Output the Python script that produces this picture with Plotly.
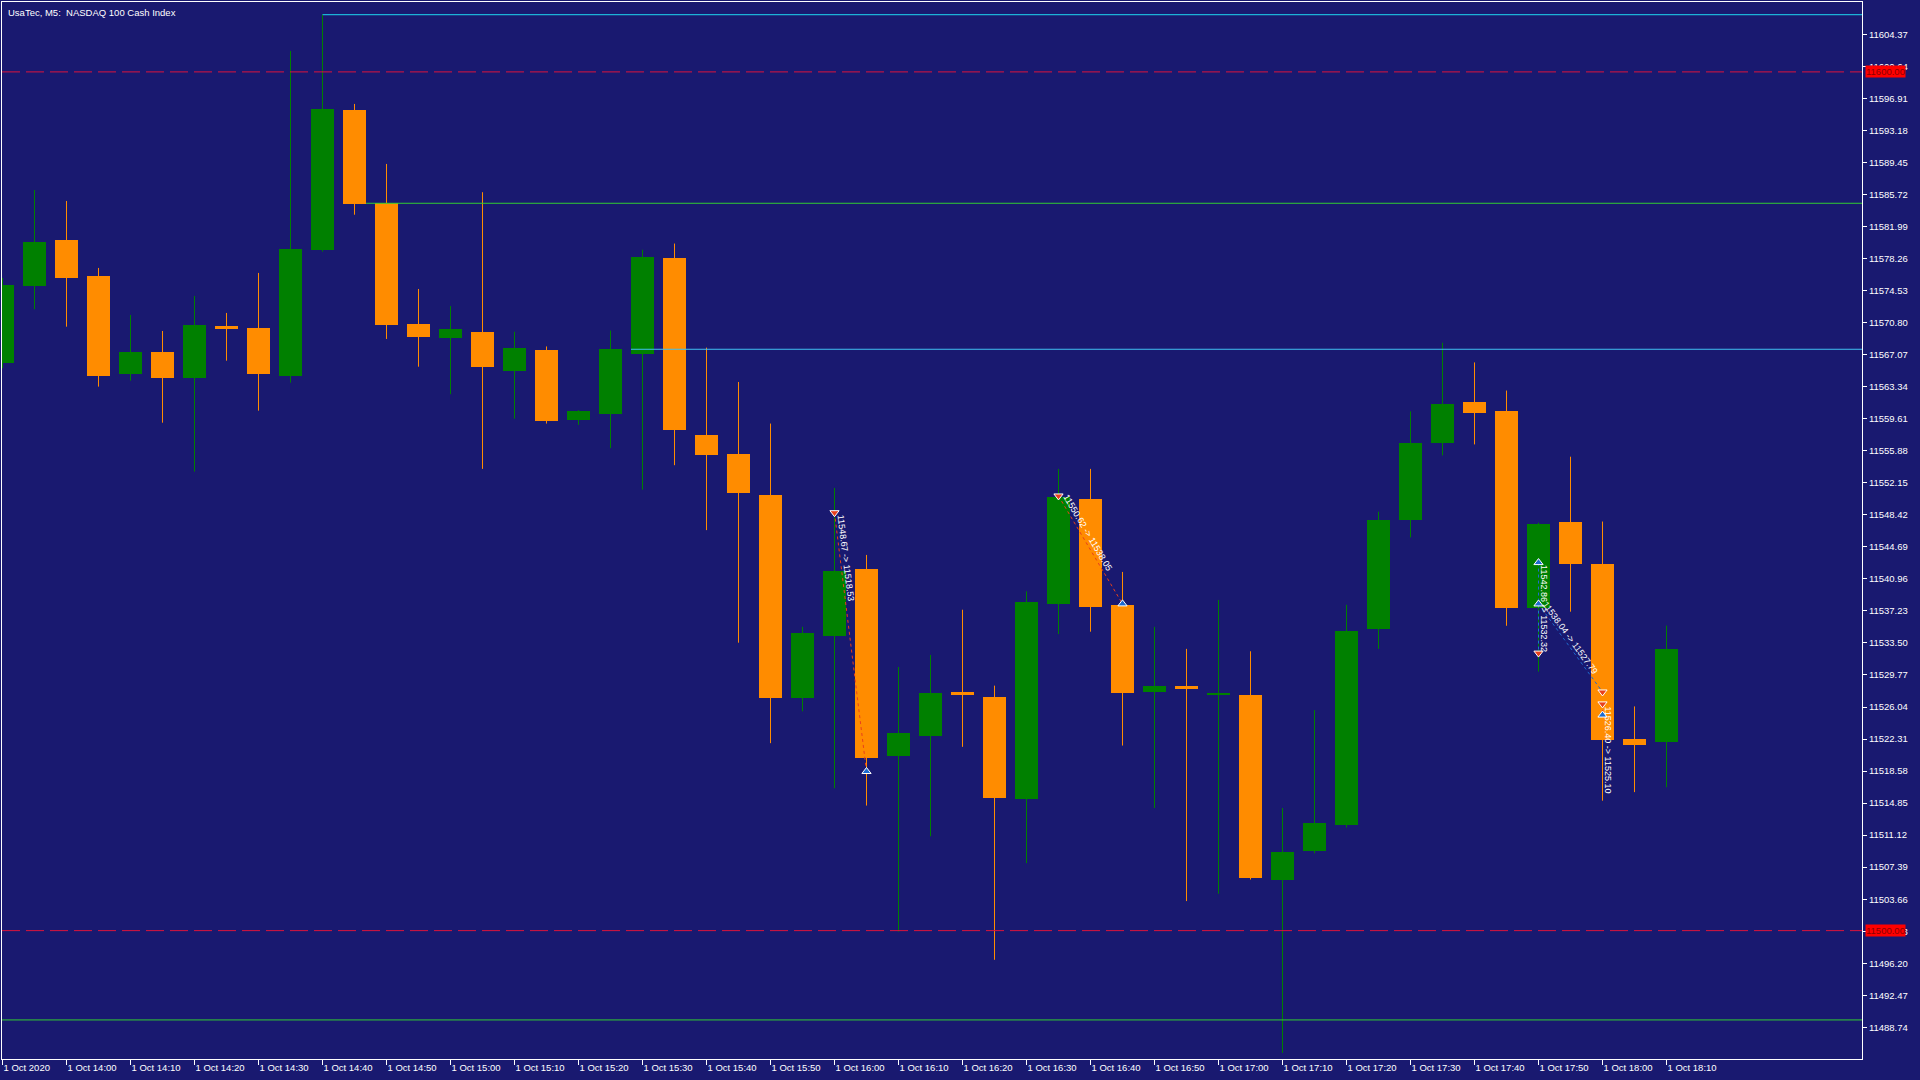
import math
import pandas as pd
import plotly.graph_objects as go

# 5 minute bars, 1 Oct 2020
times = ["13:50", "13:55", "14:00", "14:05", "14:10", "14:15", "14:20", "14:25", "14:30", "14:35",
         "14:40", "14:45", "14:50", "14:55", "15:00", "15:05", "15:10", "15:15", "15:20", "15:25",
         "15:30", "15:35", "15:40", "15:45", "15:50", "15:55", "16:00", "16:05", "16:10", "16:15",
         "16:20", "16:25", "16:30", "16:35", "16:40", "16:45", "16:50", "16:55", "17:00", "17:05",
         "17:10", "17:15", "17:20", "17:25", "17:30", "17:35", "17:40", "17:45", "17:50", "17:55",
         "18:00", "18:05", "18:10"]

open_prices = [11566.14, 11575.11, 11580.43, 11576.24, 11564.86, 11567.39, 11564.39, 11570.41, 11570.18, 11564.63,
               11579.30, 11595.57, 11584.70, 11570.65, 11569.03, 11569.74, 11565.18, 11567.60, 11559.48, 11560.19,
               11567.17, 11578.30, 11557.76, 11555.48, 11550.78, 11527.11, 11534.35, 11542.12, 11520.37, 11522.69,
               11527.82, 11527.25, 11515.27, 11538.08, 11550.27, 11537.92, 11527.82, 11528.53, 11527.39, 11527.39,
               11505.86, 11509.29, 11512.28, 11535.09, 11547.78, 11556.76, 11561.61, 11560.47, 11537.61, 11547.64,
               11542.70, 11522.32, 11521.98]
high_prices = [11576.00, 11586.25, 11584.97, 11577.17, 11571.69, 11569.83, 11573.91, 11571.93, 11576.59, 11602.44,
               11606.66, 11596.27, 11589.28, 11574.72, 11572.73, 11585.99, 11569.74, 11568.03, 11560.60, 11569.88,
               11579.29, 11580.01, 11567.89, 11563.89, 11559.05, 11535.38, 11551.55, 11543.75, 11530.70, 11532.10,
               11537.37, 11528.53, 11539.51, 11553.77, 11553.77, 11541.77, 11535.38, 11532.81, 11538.51, 11532.53,
               11514.28, 11525.68, 11537.94, 11548.78, 11560.47, 11568.46, 11566.17, 11562.89, 11547.50, 11555.19,
               11547.64, 11526.11, 11535.52]
low_prices = [11565.50, 11572.36, 11570.33, 11563.35, 11564.04, 11559.15, 11553.45, 11566.37, 11560.55, 11563.81,
              11579.07, 11583.37, 11568.90, 11565.67, 11562.47, 11553.77, 11559.62, 11559.05, 11558.90, 11556.19,
              11551.35, 11554.20, 11546.64, 11533.53, 11521.83, 11525.54, 11516.58, 11514.56, 11499.88, 11510.99,
              11521.40, 11496.60, 11507.86, 11534.53, 11534.81, 11521.55, 11514.28, 11503.44, 11504.29, 11505.95,
              11485.76, 11509.00, 11512.00, 11532.81, 11545.79, 11555.34, 11556.62, 11535.50, 11530.16, 11537.14,
              11515.13, 11516.13, 11516.70]
close_prices = [11575.19, 11580.19, 11576.04, 11564.63, 11567.39, 11564.39, 11570.53, 11570.10, 11564.86, 11579.38,
                11595.68, 11584.66, 11570.56, 11569.17, 11570.02, 11565.60, 11567.89, 11559.33, 11560.47, 11567.74,
                11578.44, 11558.33, 11555.34, 11550.92, 11527.11, 11534.67, 11541.88, 11520.14, 11523.02, 11527.68,
                11527.39, 11515.42, 11538.23, 11550.47, 11537.73, 11527.68, 11528.53, 11528.11, 11527.68, 11506.15,
                11509.14, 11512.56, 11534.95, 11547.78, 11556.76, 11561.33, 11560.33, 11537.60, 11547.35, 11542.66,
                11522.24, 11521.66, 11532.81]

xtick_labels = ["1 Oct 2020", "1 Oct 14:00", "1 Oct 14:10", "1 Oct 14:20", "1 Oct 14:30", "1 Oct 14:40",
                "1 Oct 14:50", "1 Oct 15:00", "1 Oct 15:10", "1 Oct 15:20", "1 Oct 15:30", "1 Oct 15:40",
                "1 Oct 15:50", "1 Oct 16:00", "1 Oct 16:10", "1 Oct 16:20", "1 Oct 16:30", "1 Oct 16:40",
                "1 Oct 16:50", "1 Oct 17:00", "1 Oct 17:10", "1 Oct 17:20", "1 Oct 17:30", "1 Oct 17:40",
                "1 Oct 17:50", "1 Oct 18:00", "1 Oct 18:10"]
ytick_labels = ["11604.37", "11600.64", "11596.91", "11593.18", "11589.45", "11585.72", "11581.99", "11578.26",
                "11574.53", "11570.80", "11567.07", "11563.34", "11559.61", "11555.88", "11552.15", "11548.42",
                "11544.69", "11540.96", "11537.23", "11533.50", "11529.77", "11526.04", "11522.31", "11518.58",
                "11514.85", "11511.12", "11507.39", "11503.66", "11499.93", "11496.20", "11492.47", "11488.74"]

# price levels drawn on the chart
limit_levels = [11600.00, 11500.00]
ray_prices = [11606.66, 11584.70, 11567.70]
ray_starts = ["14:40", "14:45", "15:30"]
bottom_level = 11489.60

# closed trades (entry -> exit)
trade_side = ["sell", "sell", "buy", "buy", "sell"]
trade_in_time = ["16:00", "16:35", "17:50", "17:50", "18:00"]
trade_in_price = [11548.67, 11550.62, 11542.86, 11538.04, 11526.40]
trade_out_time = ["16:05", "16:45", "17:50", "18:00", "18:00"]
trade_out_price = [11518.53, 11538.05, 11532.32, 11527.79, 11525.10]

BG = "#191970"
BULL = "#008000"
BEAR = "#FF8C00"
SELL_COL = "#E8401C"
BUY_COL = "#1E6AD0"
DAY = "2020-10-01 "

W, H = 1920, 1080
margin = dict(l=2, r=58, t=2, b=21)
y_range = [11485.05, 11608.14]
x_start = pd.Timestamp(DAY + "13:49:55.3")
n_bars_view = 58.125
x_end = x_start + pd.Timedelta(minutes=5 * n_bars_view)
px_per_bar = (W - margin["l"] - margin["r"]) / n_bars_view
px_per_price = (H - margin["t"] - margin["b"]) / (y_range[1] - y_range[0])


def ts(t, bars=0.0):
    return str(pd.Timestamp(DAY + t) + pd.Timedelta(minutes=5 * bars))


x = [ts(t) for t in times]
bar_ms = 0.72 * 5 * 60 * 1000

fig = go.Figure()

# wicks
for col, bull in [(BULL, True), (BEAR, False)]:
    wx, wy = [], []
    for i in range(len(times)):
        if (close_prices[i] >= open_prices[i]) == bull:
            wx += [x[i], x[i], None]
            wy += [low_prices[i], high_prices[i], None]
    fig.add_trace(go.Scatter(x=wx, y=wy, mode="lines", line=dict(color=col, width=1),
                             hoverinfo="skip"))

# bodies
base = [min(o, c) for o, c in zip(open_prices, close_prices)]
size = [max(abs(c - o), 0.25) for o, c in zip(open_prices, close_prices)]
colors = [BULL if c >= o else BEAR for o, c in zip(open_prices, close_prices)]
fig.add_trace(go.Bar(x=x, y=size, base=base, width=bar_ms, marker=dict(color=colors, line=dict(width=0)),
                     customdata=list(zip(open_prices, high_prices, low_prices, close_prices)),
                     hovertemplate="O %{customdata[0]}<br>H %{customdata[1]}<br>L %{customdata[2]}"
                                   "<br>C %{customdata[3]}<extra></extra>"))

# level lines
shapes = []
for lv in limit_levels:
    shapes.append(dict(type="line", xref="paper", x0=0, x1=1, yref="y", y0=lv, y1=lv,
                       line=dict(color="#DC143C", width=1, dash="18px,6px"), layer="above"))
ray_cols = ["#1ED8F0", "#32CD32", "#40C0F0"]
ray_offsets = [0.0, 0.36, -0.36]
for p, t, c, off in zip(ray_prices, ray_starts, ray_cols, ray_offsets):
    shapes.append(dict(type="line", xref="x", x0=ts(t, off), x1=str(x_end), yref="y", y0=p, y1=p,
                       line=dict(color=c, width=1), layer="above"))
shapes.append(dict(type="line", xref="paper", x0=0, x1=1, yref="y", y0=bottom_level, y1=bottom_level,
                   line=dict(color="#32CD32", width=1), layer="above"))

# trades
annotations = []
for side, t0, p0, t1, p1 in zip(trade_side, trade_in_time, trade_in_price, trade_out_time, trade_out_price):
    lc = SELL_COL if side == "sell" else BUY_COL
    fig.add_trace(go.Scatter(x=[ts(t0), ts(t1)], y=[p0, p1], mode="lines",
                             line=dict(color=lc, width=1, dash="dot"), hoverinfo="skip"))
    in_sym, out_sym = ("triangle-down", "triangle-up") if side == "sell" else ("triangle-up", "triangle-down")
    out_col = BUY_COL if side == "sell" else SELL_COL
    fig.add_trace(go.Scatter(x=[ts(t0), ts(t1)], y=[p0, p1], mode="markers",
                             marker=dict(symbol=[in_sym, out_sym], color=[lc, out_col], size=8,
                                         line=dict(color="white", width=1)), hoverinfo="skip"))
    dx = (times.index(t1) - times.index(t0)) * px_per_bar
    dy = (p0 - p1) * px_per_price
    ln = math.hypot(dx, dy)
    ux, uy = dx / ln, dy / ln
    nx, ny = uy, -ux
    ox, oy = 46 * ux + 6 * nx, 46 * uy + 6 * ny
    annotations.append(dict(x=ts(t0), y=p0, xref="x", yref="y", text=f"{p0:.2f} -> {p1:.2f}",
                            showarrow=False, textangle=math.degrees(math.atan2(dy, dx)),
                            xshift=ox, yshift=-oy, xanchor="center", yanchor="middle",
                            font=dict(color="white", size=9, family="Liberation Sans")))

for lv in limit_levels:
    annotations.append(dict(xref="paper", x=1, xanchor="left", xshift=3, yref="y", y=lv, yanchor="middle",
                            text=f"{lv:.2f}", showarrow=False, bgcolor="#FF0000", borderpad=0,
                            font=dict(color="#8B0000", size=9.5, family="Liberation Sans")))

annotations.append(dict(xref="paper", yref="paper", x=0, y=1, xanchor="left", yanchor="top", xshift=4,
                        yshift=-3, showarrow=False, text="UsaTec, M5:\u00a0 NASDAQ 100 Cash Index",
                        font=dict(color="white", size=9.5, family="Liberation Sans")))

fig.update_layout(
    width=W, height=H, margin=margin,
    paper_bgcolor=BG, plot_bgcolor=BG,
    showlegend=False, bargap=0,
    font=dict(family="Liberation Sans", size=9.5, color="white"),
    shapes=shapes, annotations=annotations,
    xaxis=dict(type="date", range=[str(x_start), str(x_end)],
               tickvals=x[::2], ticktext=xtick_labels, ticklabelposition="outside right",
               ticks="outside", ticklen=5, tickcolor="white", tickwidth=1,
               showline=True, linecolor="white", linewidth=1, mirror=True,
               showgrid=False, zeroline=False, rangeslider=dict(visible=False),
               tickfont=dict(color="white", size=9.5)),
    yaxis=dict(side="right", range=y_range,
               tickvals=[float(s) for s in ytick_labels], ticktext=ytick_labels,
               ticks="outside", ticklen=4, tickcolor="white", tickwidth=1,
               showline=True, linecolor="white", linewidth=1, mirror=True,
               showgrid=False, zeroline=False,
               tickfont=dict(color="white", size=9.5)),
)

# page has a default body margin; drop it so the figure fills the window like the terminal does
fig.write_html("out.html", config={"displayModeBar": False},
               post_script="document.body.style.margin='0px';document.body.style.background='%s';" % BG)
